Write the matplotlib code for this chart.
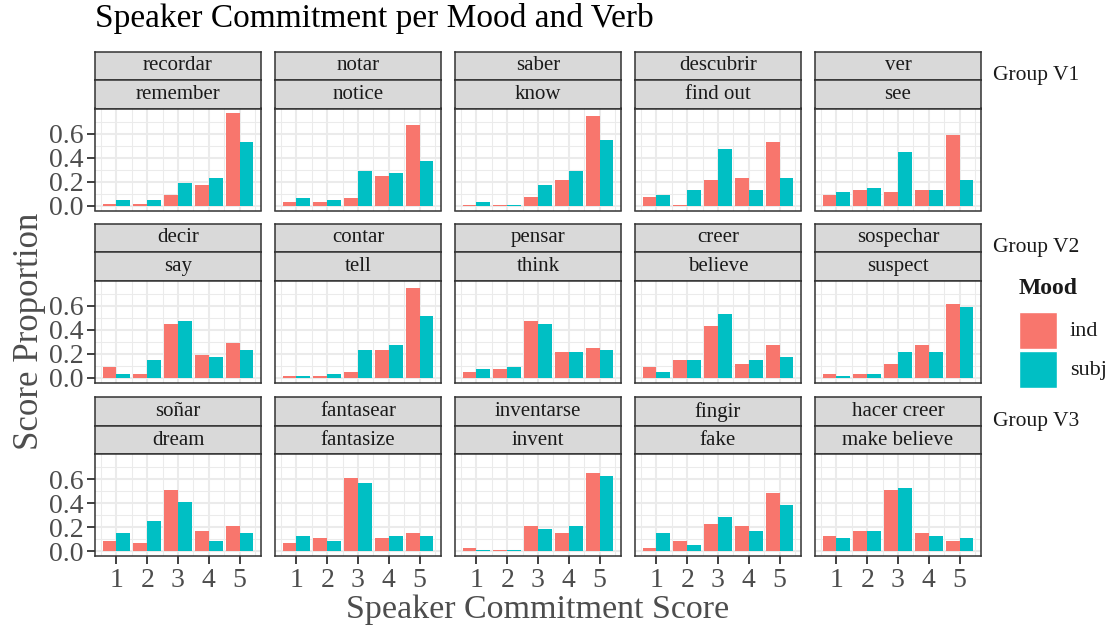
import numpy as np
import matplotlib.pyplot as plt
from matplotlib.patches import Rectangle

# facet labels (Spanish on top strip, English below)
verbs_es = ['recordar', 'notar', 'saber', 'descubrir', 'ver',
            'decir', 'contar', 'pensar', 'creer', 'sospechar',
            'soñar', 'fantasear', 'inventarse', 'fingir', 'hacer creer']
verbs_en = ['remember', 'notice', 'know', 'find out', 'see',
            'say', 'tell', 'think', 'believe', 'suspect',
            'dream', 'fantasize', 'invent', 'fake', 'make believe']
groups = ['Group V1', 'Group V2', 'Group V3']
scores = [1, 2, 3, 4, 5]

# score proportions, one row per verb (scores 1..5)
ind = [
    [0.01, 0.01, 0.09, 0.17, 0.77],
    [0.03, 0.03, 0.065, 0.25, 0.67],
    [0.005, 0.005, 0.07, 0.21, 0.75],
    [0.07, 0.005, 0.21, 0.23, 0.53],
    [0.09, 0.13, 0.11, 0.13, 0.59],
    [0.09, 0.03, 0.45, 0.19, 0.29],
    [0.01, 0.01, 0.05, 0.23, 0.75],
    [0.05, 0.07, 0.47, 0.21, 0.25],
    [0.09, 0.15, 0.43, 0.11, 0.27],
    [0.03, 0.03, 0.11, 0.27, 0.61],
    [0.09, 0.07, 0.51, 0.17, 0.21],
    [0.07, 0.11, 0.61, 0.11, 0.15],
    [0.03, 0.01, 0.21, 0.15, 0.65],
    [0.03, 0.09, 0.23, 0.21, 0.49],
    [0.13, 0.17, 0.51, 0.15, 0.09],
]
subj = [
    [0.05, 0.05, 0.19, 0.23, 0.53],
    [0.065, 0.05, 0.29, 0.27, 0.37],
    [0.03, 0.005, 0.17, 0.29, 0.55],
    [0.09, 0.13, 0.47, 0.13, 0.23],
    [0.11, 0.15, 0.45, 0.13, 0.21],
    [0.03, 0.15, 0.47, 0.17, 0.23],
    [0.01, 0.03, 0.23, 0.27, 0.51],
    [0.07, 0.09, 0.45, 0.21, 0.23],
    [0.05, 0.15, 0.53, 0.15, 0.17],
    [0.01, 0.03, 0.21, 0.21, 0.59],
    [0.15, 0.25, 0.41, 0.09, 0.15],
    [0.13, 0.09, 0.57, 0.13, 0.13],
    [0.01, 0.01, 0.19, 0.21, 0.63],
    [0.15, 0.05, 0.29, 0.17, 0.39],
    [0.11, 0.17, 0.53, 0.13, 0.11],
]

IND_COL = '#F8766D'
SUBJ_COL = '#00BFC4'
FONT = 'Liberation Serif'
plt.rcParams['font.family'] = FONT

W, H = 1116, 633
fig = plt.figure(figsize=(W / 100, H / 100), dpi=100)


def box(left, top, width, height):
    return [left / W, 1 - (top + height) / H, width / W, height / H]


col_left = [95, 275, 455, 635, 815]
pw = 166
row_top = [51.5, 223.5, 397.3]
sh = 28.5
ph = 102

ymax = max(max(max(r) for r in ind), max(max(r) for r in subj)) * 1.05
x = np.array(scores)

for i in range(15):
    r, c = divmod(i, 5)
    left, top = col_left[c], row_top[r]

    # strips
    for k, lab in enumerate([verbs_es[i], verbs_en[i]]):
        sa = fig.add_axes(box(left, top + k * sh, pw, sh))
        sa.set_facecolor('#D9D9D9')
        sa.set_xticks([])
        sa.set_yticks([])
        for s in sa.spines.values():
            s.set_color('#333333')
            s.set_linewidth(1.1)
        sa.text(0.5, 0.5, lab, ha='center', va='center', fontsize=15,
                color='#1A1A1A', transform=sa.transAxes)

    ax = fig.add_axes(box(left, top + 2 * sh, pw, ph))
    ax.bar(x - 0.225, ind[i], width=0.45, color=IND_COL, zorder=3)
    ax.bar(x + 0.225, subj[i], width=0.45, color=SUBJ_COL, zorder=3)
    ax.set_xlim(0.305, 5.695)
    ax.set_ylim(-0.04, ymax)
    ax.set_xticks(scores)
    ax.set_xticks(np.arange(0.5, 6, 1), minor=True)
    ax.set_yticks([0, 0.2, 0.4, 0.6])
    ax.set_yticks([0.1, 0.3, 0.5, 0.7], minor=True)
    ax.grid(which='major', color='#EBEBEB', linewidth=1.5, zorder=0)
    ax.grid(which='minor', color='#EBEBEB', linewidth=0.75, zorder=0)
    ax.set_axisbelow(True)
    for s in ax.spines.values():
        s.set_color('#333333')
        s.set_linewidth(1.1)
    ax.tick_params(which='minor', length=0)
    ax.tick_params(which='major', length=5.5, width=1.3, color='#333333',
                   labelsize=20, labelcolor='#4D4D4D', pad=3)
    if c == 0:
        ax.set_yticklabels(['0.0', '0.2', '0.4', '0.6'])
    else:
        ax.tick_params(axis='y', length=0, labelleft=False)
    if r != 2:
        ax.tick_params(axis='x', length=0, labelbottom=False)

# group labels on the right
for r, g in enumerate(groups):
    fig.text(993 / W, 1 - (row_top[r] + 24) / H, g, ha='left', va='center',
             fontsize=15.5, color='#1A1A1A')

# legend
fig.text(1019 / W, 1 - 288 / H, 'Mood', ha='left', va='center',
         fontsize=17, fontweight='bold', color='#1A1A1A')
for k, (lab, colr) in enumerate([('ind', IND_COL), ('subj', SUBJ_COL)]):
    t = 312 + k * 39
    fig.patches.append(Rectangle((1019 / W, 1 - (t + 37) / H), 38 / W, 37 / H,
                                 transform=fig.transFigure, facecolor=colr,
                                 edgecolor='white', linewidth=1))
    fig.text(1070 / W, 1 - (t + 19) / H, lab, ha='left', va='center',
             fontsize=16, color='#1A1A1A')

fig.text(95 / W, 1 - 19 / H, 'Speaker Commitment per Mood and Verb',
         ha='left', va='center', fontsize=24, color='black')
fig.text(538 / W, 1 - 610 / H, 'Speaker Commitment Score', ha='center',
         va='center', fontsize=24.5, color='#4D4D4D')
fig.text(30 / W, 1 - 331 / H, 'Score Proportion', ha='center', va='center',
         rotation=90, fontsize=25, color='#4D4D4D')

fig.savefig('out.png', dpi=100)
